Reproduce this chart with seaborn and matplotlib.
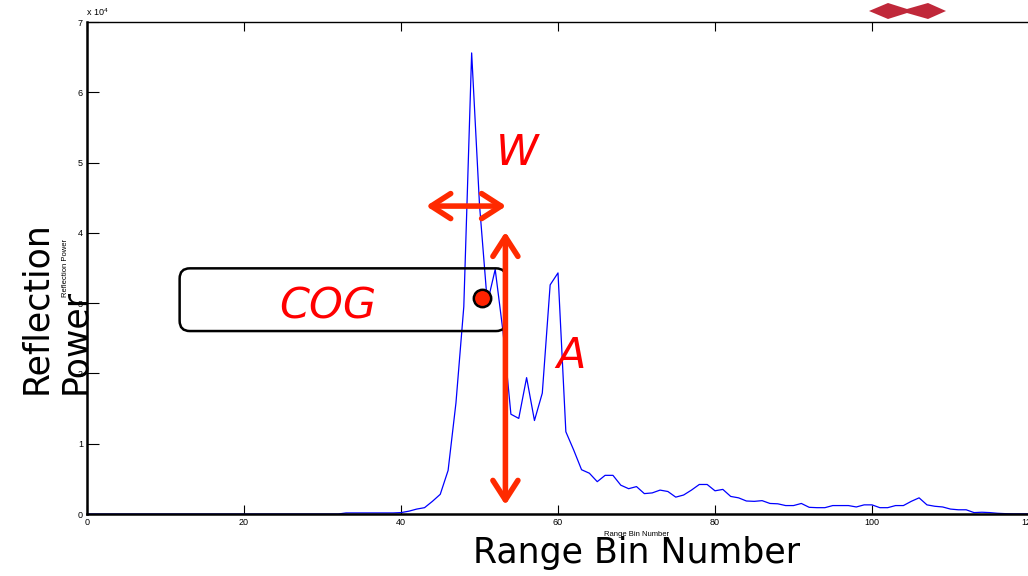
import numpy as np
import pandas as pd
import seaborn as sns
import matplotlib.pyplot as plt
from matplotlib.patches import FancyArrowPatch, FancyBboxPatch, Polygon

# Reflection power per range bin
bins = list(range(0, 129))
power = ([0] * 33 + [150] * 7 +
         [200, 400, 700, 900, 1800, 2800, 6200, 15800, 29500, 65600,
          44000, 30000, 34800, 25900, 14200, 13600, 19400, 13300, 17200, 32600,
          34300, 11700, 9100, 6300, 5800, 4600, 5500, 5500, 4100, 3600,
          3900, 2900, 3000, 3400, 3200, 2400, 2700, 3400, 4200, 4200,
          3300, 3500, 2500, 2300, 1850, 1800, 1900, 1500, 1450, 1200,
          1200, 1500, 950, 900, 900, 1200, 1200, 1200, 1000, 1300,
          1300, 900, 900, 1200, 1200, 1800, 2300, 1300, 1100, 1000,
          700, 600, 600, 200, 250, 200, 100, 50] + [20] * 11)

x_ticks = [0, 20, 40, 60, 80, 100, 120, 140]
y_ticks = [0, 10000, 20000, 30000, 40000, 50000, 60000, 70000]
y_tick_labels = ["0", "1", "2", "3", "4", "5", "6", "7"]

df = pd.DataFrame({"bin": bins, "power": power})

sns.set_style("ticks")
plt.rcParams['font.family'] = ['Liberation Sans', 'DejaVu Sans']
plt.rcParams['mathtext.default'] = 'regular'
for key in ['text.color', 'axes.labelcolor', 'xtick.color', 'ytick.color',
            'axes.edgecolor']:
    plt.rcParams[key] = 'black'

fig = plt.figure(figsize=(10.28, 5.76), dpi=100)
ax = fig.add_axes([87 / 1028, 62 / 576, 1099 / 1028, 492 / 576])

sns.lineplot(data=df, x="bin", y="power", ax=ax, color="#0000FF", linewidth=0.9)

ax.set_xlim(0, 140)
ax.set_ylim(0, 70000)
ax.set_xticks(x_ticks)
ax.set_xticklabels([str(t) for t in x_ticks])
ax.set_yticks(y_ticks)
ax.set_yticklabels(y_tick_labels)
ax.tick_params(direction="in", top=True, right=True, labelsize=6.5, width=0.8,
               pad=3, colors="black")
ax.tick_params(axis="x", length=6.5)
ax.tick_params(axis="y", length=8.5)
for side in ["bottom", "left"]:
    ax.spines[side].set_linewidth(1.8)
ax.spines["top"].set_linewidth(1.0)
ax.spines["right"].set_linewidth(1.0)
for sp in ax.spines.values():
    sp.set_color("black")

ax.set_xlabel("Range Bin Number", fontsize=5.5, labelpad=3, color="black")
ax.set_ylabel("Reflection Power", fontsize=5.5, labelpad=6, color="black")
fig.text(86 / 1028, 1 - 12 / 576, "x 10$^{4}$", fontsize=6.5, va="center",
         color="black")

# annotations
red = "#FF2A00"
ax.add_patch(FancyBboxPatch((11.8, 26030), 53.4 - 11.8, 34950 - 26030,
                            boxstyle="round,pad=0,rounding_size=1.3",
                            mutation_aspect=1117, fill=False,
                            edgecolor="black", linewidth=1.8, zorder=4))
for a, b in [((43.2, 43810), (53.4, 43810)), ((53.3, 40150), (53.3, 1280))]:
    ax.add_patch(FancyArrowPatch(a, b, arrowstyle="<->,head_length=0.7,head_width=0.45",
                                 mutation_scale=20, color=red, linewidth=4,
                                 shrinkA=0, shrinkB=0, capstyle="round",
                                 joinstyle="round", zorder=5))
ax.plot([50.3], [30770], "o", markersize=12.5, markerfacecolor="#FF2200",
        markeredgecolor="black", markeredgewidth=1.8, zorder=6)

big = dict(family=["DejaVu Sans"], style="italic", color="#FF0000",
           fontsize=31, ha="center", va="center", zorder=7)
ax.text(54.8, 51350, "W", **big)
ax.text(30.7, 29590, "COG", **big)
ax.text(61.7, 22480, "A", **big)

fig.text(637 / 1028, 1 - 553 / 576, "Range Bin Number", family=["DejaVu Sans"],
         fontsize=25, ha="center", va="center", color="black")
fig.text(55.5 / 1028, 1 - 308 / 576, "Reflection\nPower", family=["DejaVu Sans"],
         fontsize=25, rotation=90, ha="center", va="center", color="black",
         multialignment="left", linespacing=1.2)

# bow-tie logo at the top
logo_px = [(869, 11), (888, 3), (907, 9), (928, 3), (946, 11),
           (928, 19), (907, 13), (888, 19)]
fig.patches.append(Polygon([(px / 1028, 1 - py / 576) for px, py in logo_px],
                           closed=True, facecolor="#C0283A", edgecolor="none",
                           transform=fig.transFigure, figure=fig))

fig.savefig("out.png", dpi=100)
